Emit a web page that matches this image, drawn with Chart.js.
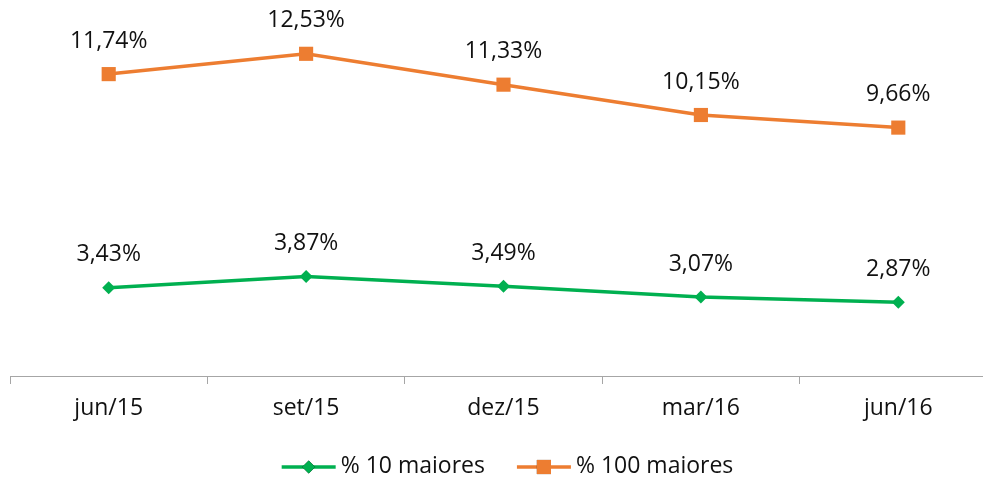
<!DOCTYPE html>
<html>
<head>
<meta charset="utf-8">
<script src="https://cdn.jsdelivr.net/npm/chart.js@4"></script>
<style>
  html, body { margin: 0; padding: 0; overflow: hidden; background: #fff; }
  #wrap { width: 1007px; height: 479px; position: relative; }
</style>
</head>
<body>
<div id="wrap"><canvas id="c"></canvas></div>
<script>
// Quarterly concentration shares (%)
const categories = ['jun/15', 'set/15', 'dez/15', 'mar/16', 'jun/16'];
const top10 = [3.43, 3.87, 3.49, 3.07, 2.87];
const top100 = [11.74, 12.53, 11.33, 10.15, 9.66];
const seriesNames = ['% 10 maiores', '% 100 maiores'];
const yBounds = [0, 14];

const FONT = '"Open Sans", "DejaVu Sans", sans-serif';
const FONT_SIZE = 23;
const TEXT = '#111111';
const GREEN = '#00B050';
const ORANGE = '#ED7D31';

const fmt = v => v.toFixed(2).replace('.', ',') + '%';

// Value labels above each point
const valueLabels = {
  id: 'valueLabels',
  afterDatasetsDraw(chart) {
    const ctx = chart.ctx;
    ctx.save();
    ctx.font = FONT_SIZE + 'px ' + FONT;
    ctx.fillStyle = TEXT;
    ctx.textAlign = 'center';
    ctx.textBaseline = 'middle';
    chart.data.datasets.forEach((ds, i) => {
      chart.getDatasetMeta(i).data.forEach((pt, j) => {
        ctx.fillText(fmt(ds.data[j]), pt.x, pt.y - 33);
      });
    });
    ctx.restore();
  }
};

// Legend with line-and-marker swatches, centred under the plot
const lineLegend = {
  id: 'lineLegend',
  afterDraw(chart) {
    const ctx = chart.ctx;
    const area = chart.chartArea;
    const swatch = 54, gapText = 5, gapItem = 32, y = 466;
    ctx.save();
    ctx.font = FONT_SIZE + 'px ' + FONT;
    const items = chart.data.datasets.map(ds => ({
      ds, w: swatch + gapText + ctx.measureText(ds.label).width
    }));
    const total = items.reduce((s, it) => s + it.w, 0) + gapItem * (items.length - 1);
    let x = (area.left + area.right) / 2 + 4 - total / 2;
    items.forEach(it => {
      const ds = it.ds;
      ctx.strokeStyle = ds.borderColor;
      ctx.lineWidth = ds.borderWidth;
      ctx.beginPath();
      ctx.moveTo(x, y + 1);
      ctx.lineTo(x + swatch, y + 1);
      ctx.stroke();
      Chart.helpers.drawPoint(ctx, {
        pointStyle: ds.pointStyle,
        radius: ds.pointRadius,
        borderWidth: 0,
        rotation: 0
      }, x + swatch / 2, y + 1);
      ctx.fillStyle = ds.pointBackgroundColor;
      ctx.fill();
      ctx.fillStyle = TEXT;
      ctx.textAlign = 'left';
      ctx.textBaseline = 'middle';
      ctx.fillText(ds.label, x + swatch + gapText, y);
      x += it.w + gapItem;
    });
    ctx.restore();
  }
};

new Chart(document.getElementById('c'), {
  type: 'line',
  data: {
    labels: categories,
    datasets: [
      {
        label: seriesNames[0],
        data: top10,
        borderColor: GREEN,
        backgroundColor: GREEN,
        pointBackgroundColor: GREEN,
        pointBorderColor: GREEN,
        pointBorderWidth: 0,
        borderWidth: 3.5,
        pointStyle: 'rectRot',
        pointRadius: 6.5,
        pointHoverRadius: 6.5,
        tension: 0
      },
      {
        label: seriesNames[1],
        data: top100,
        borderColor: ORANGE,
        backgroundColor: ORANGE,
        pointBackgroundColor: ORANGE,
        pointBorderColor: ORANGE,
        pointBorderWidth: 0,
        borderWidth: 3.5,
        pointStyle: 'rect',
        pointRadius: 10,
        pointHoverRadius: 10,
        tension: 0
      }
    ]
  },
  options: {
    responsive: true,
    maintainAspectRatio: false,
    animation: false,
    events: [],
    layout: { padding: { left: 10, right: 4, top: 16, bottom: 0 } },
    plugins: {
      legend: { display: false },
      tooltip: { enabled: false }
    },
    scales: {
      x: {
        offset: true,
        afterFit(scale) { scale.height = 103; },
        grid: {
          offset: true,
          drawOnChartArea: false,
          drawTicks: true,
          tickLength: 8,
          color: '#A6A6A6',
          lineWidth: 1
        },
        border: { display: true, color: '#A6A6A6', width: 1 },
        ticks: {
          color: TEXT,
          padding: 11,
          maxRotation: 0,
          font: { family: FONT, size: FONT_SIZE }
        }
      },
      y: {
        display: false,
        min: yBounds[0],
        max: yBounds[1]
      }
    }
  },
  plugins: [valueLabels, lineLegend]
});
</script>
</body>
</html>
